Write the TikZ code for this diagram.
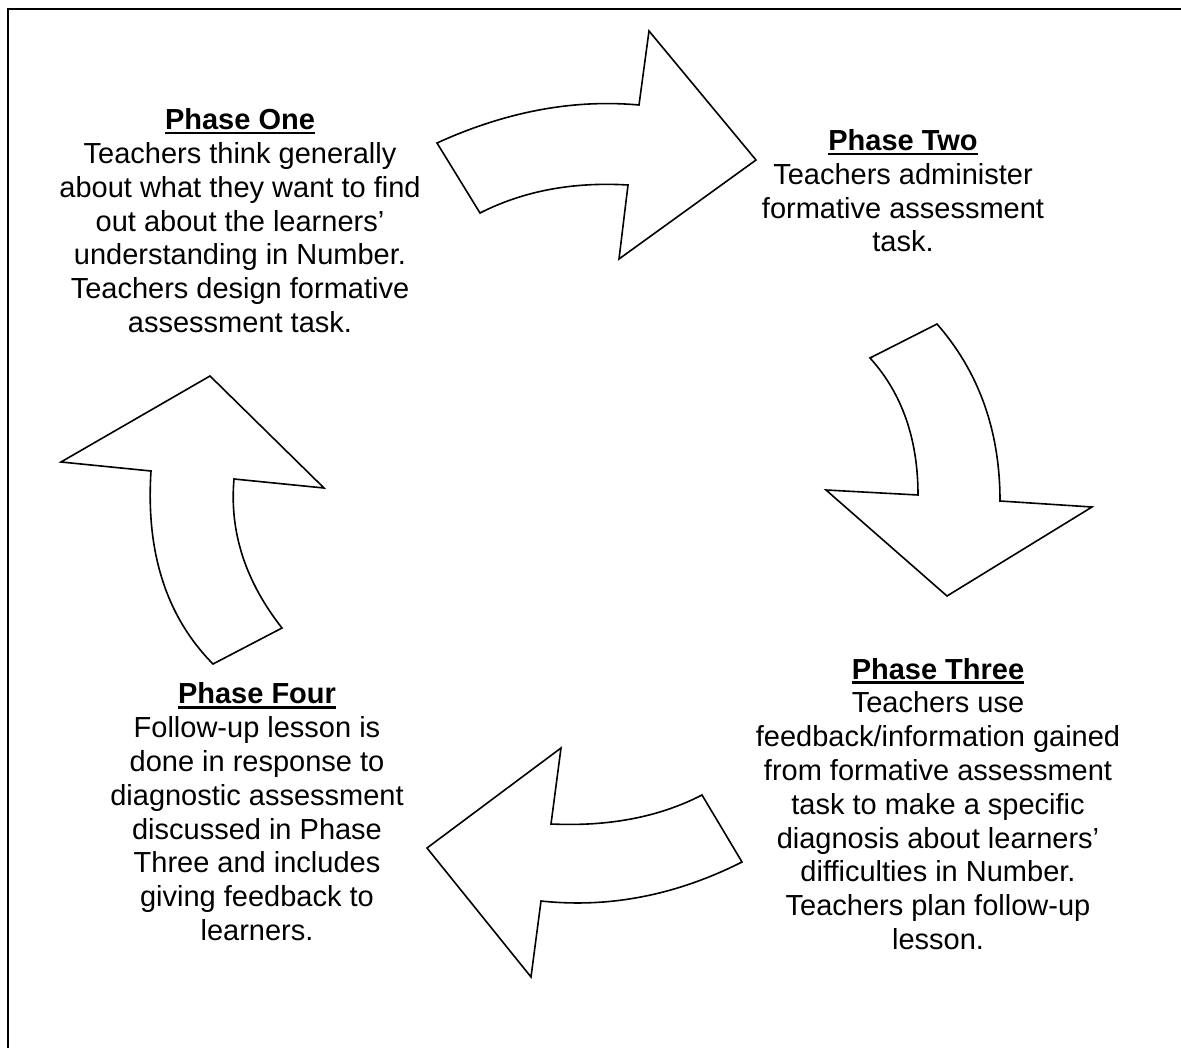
\documentclass[tikz,border=0pt]{standalone}
\usepackage{fontspec}
\setmainfont{Liberation Sans}
% bold heading with a heavier underline rule
\newcommand\phasehead[1]{\setbox0\hbox{\textbf{#1}}%
  \rlap{\rule[-4.6pt]{\wd0}{2.3pt}}\box0}
\begin{document}
\begin{tikzpicture}[x=1pt,y=-1pt,
  cyclearrow/.style={draw=black,line width=1.6pt,fill=white,line join=miter},
  phasetext/.style={align=center,inner sep=0pt,anchor=base,
    font=\fontsize{29pt}{33.8pt}\selectfont},
  frameline/.style={line width=2pt}]
\useasboundingbox (0,0) rectangle (1181,1048);

% open frame: top and left edges only
\draw[frameline] (1181,9) -- (8,9) -- (8,1048);

% arrow from phase one to phase two
\draw[cyclearrow] (437,143) .. controls (505.7,111.7) and (573,99) .. (639,105)
  -- (649,31) -- (756,160) -- (619,259) -- (628,185)
  .. controls (572.7,181.7) and (523.3,191) .. (480,213) -- cycle;

% arrow from phase two to phase three
\draw[cyclearrow] (870,358) -- (937,324)
  .. controls (979,372) and (1000,431) .. (1000,501)
  -- (1092,507) -- (947,596) -- (826,490) -- (918,495)
  .. controls (918,439) and (902,393.3) .. (870,358) -- cycle;

% arrow from phase three to phase four
\draw[cyclearrow] (427,848) -- (561,748) -- (551,824)
  .. controls (609,826.7) and (659.3,817) .. (702,795)
  -- (742,862) .. controls (676,895.3) and (609,908.3) .. (541,901)
  -- (531,977) -- cycle;

% arrow from phase four back to phase one
\draw[cyclearrow] (210,376) -- (324,488) -- (234,479)
  .. controls (229.3,531.7) and (245.3,581.3) .. (282,628)
  -- (213,664) .. controls (166.3,616.7) and (145.7,552.3) .. (151,471)
  -- (61,462) -- cycle;

% text blocks, each placed by the baseline of its last line
\node[phasetext] (p1) at (240,332.5) {\phasehead{Phase One}\\
  Teachers think generally\\about what they want to find\\out about the learners’\\
  understanding in Number.\\Teachers design formative\\assessment task.};

\node[phasetext] (p2) at (903,252) {\phasehead{Phase Two}\\
  Teachers administer\\formative assessment\\task.};

\node[phasetext] (p3) at (938,949.5) {\phasehead{Phase Three}\\
  Teachers use\\feedback/information gained\\from formative assessment\\
  task to make a specific\\diagnosis about learners’\\difficulties in Number.\\
  Teachers plan follow-up\\lesson.};

\node[phasetext] (p4) at (257,940.5) {\phasehead{Phase Four}\\
  Follow-up lesson is\\done in response to\\diagnostic assessment\\
  discussed in Phase\\Three and includes\\giving feedback to\\learners.};
\end{tikzpicture}
\end{document}
